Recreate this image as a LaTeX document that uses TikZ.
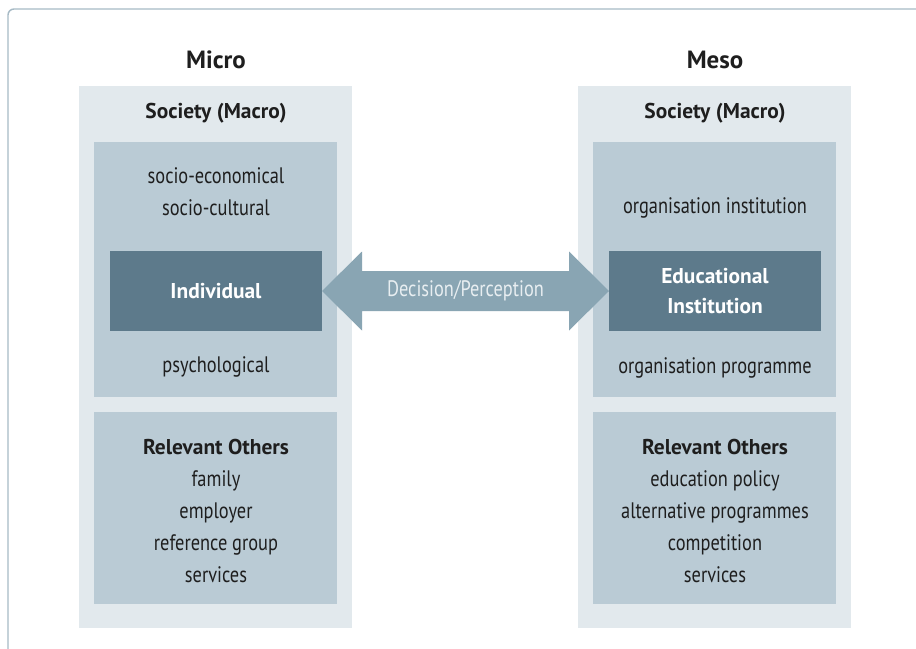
\documentclass[tikz,border=0pt]{standalone}
\usepackage{fontspec}
\setmainfont{PT Sans}[FakeStretch=0.82]
\newfontfamily\boldsans{PT Sans}
\usetikzlibrary{calc}
\definecolor{outerc}{HTML}{E2E9ED}
\definecolor{innerc}{HTML}{BACBD5}
\definecolor{darkc}{HTML}{5D7A8B}
\definecolor{arrowc}{HTML}{89A5B3}
\definecolor{framec}{HTML}{A7BAC5}
\definecolor{txtc}{HTML}{1E1E1E}
\definecolor{arrtxt}{HTML}{E8EEF1}
\newcommand{\bt}[1]{{\boldsans\bfseries\fontsize{21.5}{32}\selectfont #1}}
\begin{document}
\begin{tikzpicture}[x=1bp,y=-1bp,
  rect/.style={anchor=north west, inner sep=0pt, outer sep=0pt, draw=none},
  outerbox/.style={rect, fill=outerc, minimum width=273bp, minimum height=542bp},
  innerbox/.style={rect, fill=innerc, minimum width=243bp},
  darkbox/.style={rect, fill=darkc, minimum width=212bp, minimum height=80bp},
  lbl/.style={text=txtc, align=center, inner sep=0pt, font=\fontsize{22.5}{32}\selectfont},
  blbl/.style={lbl, font=\boldsans\bfseries\fontsize{21.5}{32}\selectfont},
  title/.style={lbl, font=\boldsans\bfseries\fontsize{25}{28}\selectfont},
  dlbl/.style={align=center, inner sep=0pt, text=white, font=\boldsans\bfseries\fontsize{21.5}{31}\selectfont},
  arrlbl/.style={inner sep=0pt, text=arrtxt, font=\fontsize{22.5}{24}\selectfont}]
\useasboundingbox (0,0) rectangle (916,649);
\clip (0,0) rectangle (916,649);
\fill[white] (0,0) rectangle (916,649);
\draw[framec, line width=1.4bp, rounded corners=6bp] (8,9) rectangle (980,720);

% Micro column
\node[title] (microT) at (216,60) {Micro};
\node[outerbox] (microO) at (79,86) {};
\node[blbl] (microS) at (216,113) {Society (Macro)};
\node[innerbox, minimum height=255bp] (microI1) at (94,142) {};
\node[lbl] (socio) at (216,191.5) {socio-economical\\socio-cultural};
\node[darkbox] (ind) at (110,251) {};
\node[dlbl] (indT) at (ind.center) {Individual};
\node[lbl] (psy) at (216,367) {psychological};
\node[innerbox, minimum height=192bp] (microI2) at (94,412) {};
\node[lbl] (microR) at (216,511) {\bt{Relevant Others}\\family\\employer\\reference group\\services};

% Meso column
\node[title] (mesoT) at (715,60) {Meso};
\node[outerbox] (mesoO) at (578,86) {};
\node[blbl] (mesoS) at (715,113) {Society (Macro)};
\node[innerbox, minimum height=255bp] (mesoI1) at (593,142) {};
\node[lbl] (orgi) at (715,208) {organisation institution};
\node[darkbox] (edu) at (609,251) {};
\node[dlbl] (eduT) at (edu.center) {Educational\\Institution};
\node[lbl] (orgp) at (715,368) {organisation programme};
\node[innerbox, minimum height=192bp] (mesoI2) at (593,412) {};
\node[lbl] (mesoR) at (715,511) {\bt{Relevant Others}\\education policy\\alternative programmes\\competition\\services};

% double arrow
\fill[arrowc] (ind.east) -- ++(40,-39.5) -- ++(0,19.5) -- ($(edu.west)+(-40,-20)$)
  -- ++(0,-19.5) -- (edu.west) -- ++(-40,39.5) -- ++(0,-19.5)
  -- ($(ind.east)+(40,20)$) -- ++(0,19.5) -- cycle;
\node[arrlbl] (arrT) at ($(ind.east)!0.5!(edu.west)$) {Decision/Perception};
\end{tikzpicture}
\end{document}
